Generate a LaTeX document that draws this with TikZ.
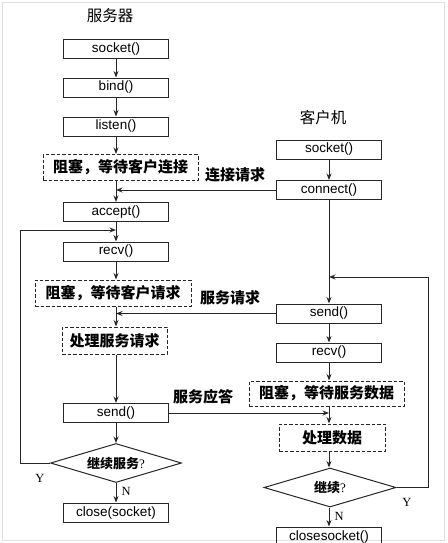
\documentclass[tikz,border=0pt]{standalone}
\usepackage{fontspec}
\setmainfont{Liberation Sans}
\newfontfamily\cjk{Noto Sans CJK SC}
\newfontfamily\serifY{Liberation Serif}
\usetikzlibrary{shapes.geometric,arrows.meta}
\begin{document}
\begin{tikzpicture}[x=1pt,y=-1pt,
  fnbox/.style={draw=black!85,line width=1pt,minimum width=105pt,minimum height=19pt,inner sep=0pt,font=\fontsize{13.5}{14}\selectfont},
  waitbox/.style={draw=black!85,line width=1pt,dashed,dash pattern=on 3.5pt off 2pt,minimum height=26pt,inner sep=0pt,font=\cjk\bfseries\fontsize{15}{16}\selectfont},
  decide/.style={draw=black!85,line width=1pt,diamond,aspect=3.4,inner sep=0pt,font=\cjk\bfseries\fontsize{13}{14}\selectfont},
  arr/.style={draw=black!85,line width=1pt,-{Stealth[length=6.5pt,width=5pt]}},
  ln/.style={draw=black!85,line width=1pt},
  msg/.style={font=\cjk\bfseries\fontsize{15}{16}\selectfont,inner sep=0pt},
  ttl/.style={font=\cjk\fontsize{15.5}{16}\selectfont,inner sep=0pt},
  yn/.style={font=\serifY\fontsize{12.5}{13}\selectfont,inner sep=0pt}
]
\useasboundingbox (0,0) rectangle (447,543);
\draw[black!12,line width=0.6pt] (2.5,2.5) rectangle (444.5,540.5);

% server column
\node[ttl] (st) at (110,16) {服务器};
\node[fnbox] (s1) at (116,49) {socket()};
\node[fnbox] (s2) at (116,87.5) {bind()};
\node[fnbox] (s3) at (116,126.5) {listen()};
\node[waitbox,minimum width=155pt] (sw1) at (120.5,167.5) {阻塞，等待客户连接};
\node[fnbox] (s4) at (116,212) {accept()};
\node[fnbox] (s5) at (116,251.5) {recv()};
\node[waitbox,minimum width=156pt] (sw2) at (113,293) {阻塞，等待客户请求};
\node[waitbox,minimum width=105pt,minimum height=27pt] (sw3) at (114.5,340.5) {处理服务请求};
\node[fnbox] (s6) at (116,413) {send()};
\node[decide,minimum width=131pt,minimum height=39pt] (sd) at (116,463) {继续服务{\serifY\mdseries ?}};
\node[fnbox] (s7) at (116,512.5) {close(socket)};

% client column
\node[ttl] (ct) at (323,118) {客户机};
\node[fnbox] (c1) at (329,149.5) {socket()};
\node[fnbox] (c2) at (329,190) {connect()};
\node[fnbox] (c3) at (329,313.5) {send()};
\node[fnbox] (c4) at (329,352.5) {recv()};
\node[waitbox,minimum width=155pt,minimum height=25pt] (cw1) at (326.5,393.5) {阻塞，等待服务数据};
\node[waitbox,minimum width=106pt,minimum height=27pt] (cw2) at (332,437.5) {处理数据};
\node[decide,minimum width=132pt,minimum height=39pt] (cd) at (330,487.5) {继续{\serifY\mdseries ?}};
\node[fnbox] (c5) at (329,536.5) {closesocket()};

% message labels
\node[msg] (m1) at (235,175) {连接请求};
\node[msg] (m2) at (230,298) {服务请求};
\node[msg] (m3) at (203,397) {服务应答};

% server flow
\draw[arr] (s1) -- (s2);
\draw[arr] (s2) -- (s3);
\draw[arr] (s3) -- (sw1.north -| s3);
\draw[arr] (sw1.south -| s3) -- (s4);
\draw[arr] (s4) -- (s5);
\draw[arr] (s5) -- (sw2.north -| s5);
\draw[arr] (sw2.south -| s5) -- (sw3.north -| s5);
\draw[arr] (sw3.south -| s5) -- (s6);
\draw[arr] (s6) -- (sd);
\draw[arr] (sd) -- node[yn,right=5pt,pos=0.45] (sn) {N} (s7);
\coordinate (sl) at (20,230);
\draw[ln] (sd.west) -- (sd.west -| sl) -- (sl);
\draw[arr] (sl) -- (sl -| s5);
\node[yn] (sy) at (40,478) {Y};

% client flow
\draw[arr] (c1) -- (c2);
\draw[arr] (c2) -- (c3);
\draw[arr] (c3) -- (c4);
\draw[arr] (c4) -- (cw1.north -| c4);
\draw[arr] (cw1.south -| c4) -- (cw2.north -| c4);
\draw[arr] (cw2.south -| c4) -- (cd.north -| c4);
\draw[arr] (cd.south -| c4) -- node[yn,right=5pt,pos=0.45] (cn) {N} (c5);
\coordinate (cl) at (428,277);
\draw[ln] (cd.east) -- (cd.east -| cl) -- (cl);
\draw[arr] (cl) -- (cl -| c3);
\node[yn] (cy) at (407,502) {Y};

% messages between
\draw[arr] (c2.west) -- (c2.west -| s4);
\draw[arr] (c3.west) -- (c3.west -| s5);
\draw[arr] (s6.east) -- (s6.east -| c4);
\end{tikzpicture}
\end{document}
